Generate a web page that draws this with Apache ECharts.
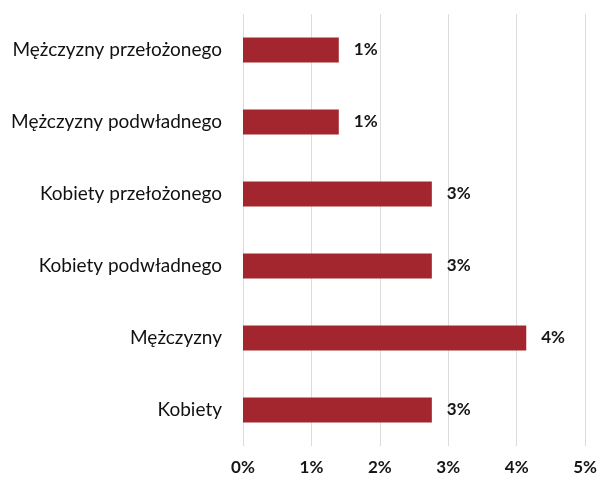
<!DOCTYPE html>
<html>
<head>
<meta charset="utf-8">
<script src="https://cdn.jsdelivr.net/npm/echarts@6/dist/echarts.min.js"></script>
<style>
  html, body { margin: 0; padding: 0; background: #fff; }
  #chart { width: 600px; height: 479px; }
</style>
</head>
<body>
<div id="chart"></div>
<script>
// Groups, listed top to bottom
const categories = [
  'Mężczyzny przełożonego',
  'Mężczyzny podwładnego',
  'Kobiety przełożonego',
  'Kobiety podwładnego',
  'Mężczyzny',
  'Kobiety'
];
// Shares in percent
const values = [1.4, 1.4, 2.76, 2.76, 4.14, 2.76];
// Value axis range and step (percent)
const axisMin = 0;
const axisMax = 5;
const axisStep = 1;

const chart = echarts.init(document.getElementById('chart'), null, { renderer: 'canvas' });
const font = 'Lato, "Open Sans", sans-serif';

chart.setOption({
  animation: false,
  backgroundColor: '#ffffff',
  grid: { left: 243, right: 13, top: 14, bottom: 33, containLabel: false },
  xAxis: {
    type: 'value',
    min: axisMin,
    max: axisMax,
    interval: axisStep,
    axisLine: { show: false },
    axisTick: { show: false },
    splitLine: { show: true, lineStyle: { color: '#dcdcdc', width: 1 } },
    axisLabel: {
      formatter: v => v + '%',
      color: '#161616',
      fontFamily: font,
      fontSize: 17,
      fontWeight: 'bold',
      margin: 13
    }
  },
  yAxis: {
    type: 'category',
    data: categories,
    inverse: true,
    axisLine: { show: false },
    axisTick: { show: false },
    splitLine: { show: false },
    axisLabel: {
      color: '#111111',
      fontFamily: font,
      fontSize: 19,
      margin: 21
    }
  },
  series: [{
    type: 'bar',
    data: values,
    barWidth: 25,
    itemStyle: { color: '#a3262f' },
    label: {
      show: true,
      position: 'right',
      distance: 15,
      formatter: p => Math.round(p.value) + '%',
      color: '#161616',
      fontFamily: font,
      fontSize: 17,
      fontWeight: 'bold'
    }
  }]
});
</script>
</body>
</html>
